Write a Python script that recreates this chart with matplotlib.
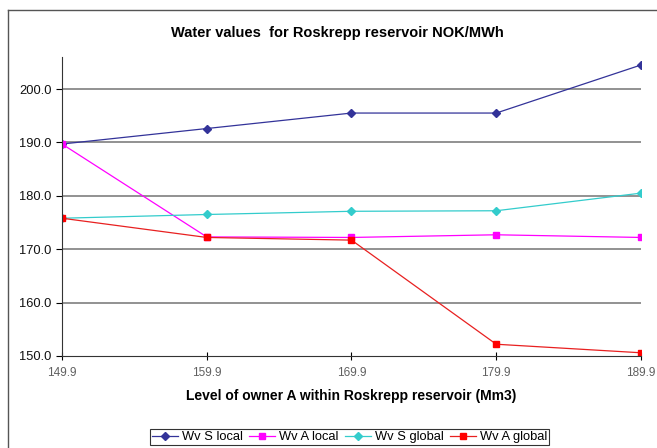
import matplotlib
matplotlib.use('Agg')
from matplotlib import pyplot as plt
from matplotlib.lines import Line2D

plt.rcParams['font.family'] = ['Liberation Sans', 'DejaVu Sans']

levels = [149.9, 159.9, 169.9, 179.9, 189.9]
wv_s_local = [189.7, 192.6, 195.5, 195.5, 204.5]
wv_a_local = [189.7, 172.3, 172.2, 172.7, 172.2]
wv_s_global = [175.8, 176.5, 177.1, 177.2, 180.5]
wv_a_global = [175.8, 172.2, 171.7, 152.2, 150.6]

y_ticks = [150.0, 160.0, 170.0, 180.0, 190.0, 200.0]

fig = plt.figure(figsize=(6.57, 4.48), dpi=100)
ax = fig.add_axes([0.0944, 0.2054, 0.8812, 0.6674])

# chart area border (left and top edges visible)
fig.add_artist(Line2D([8/657, 8/657], [0, 1-10/448], transform=fig.transFigure, color='#555555', lw=1))
fig.add_artist(Line2D([8/657, 1], [1-10/448, 1-10/448], transform=fig.transFigure, color='#555555', lw=1))

ax.plot(levels, wv_s_local, color='#333399', marker='D', markersize=4, lw=0.9, label='Wv S local')
ax.plot(levels, wv_a_local, color='#FF00FF', marker='s', markersize=5, lw=0.9, label='Wv A local')
ax.plot(levels, wv_s_global, color='#33CCCC', marker='D', markersize=4, lw=0.9, label='Wv S global')
ax.plot(levels, wv_a_global, color='#E82020', marker='s', markersize=5, mfc='#FF0000', mec='#FF0000', lw=0.9, label='Wv A global')

ax.set_xlim(149.9, 189.9)
ax.set_ylim(150, 206)
ax.set_xticks(levels)
ax.set_xticklabels(["%.1f" % v for v in levels], color='#606060')
ax.set_yticks(y_ticks)
ax.set_yticklabels(["%.1f" % v for v in y_ticks], color='#111111')
ax.tick_params(axis='x', direction='inout', length=6, labelsize=8.5, pad=5)
ax.tick_params(axis='y', direction='out', length=4, labelsize=9.3)
for y in y_ticks[1:]:
    ax.axhline(y, color='#7f7f7f', lw=1.2, zorder=0)
for s in ['top', 'right']:
    ax.spines[s].set_visible(False)
ax.spines['left'].set_color('#333333')
ax.spines['bottom'].set_color('#333333')

fig.text(337/657, 1-33/448, "Water values  for Roskrepp reservoir NOK/MWh",
         fontsize=10.5, fontweight='bold', ha='center', va='center')
ax.set_xlabel("Level of owner A within Roskrepp reservoir (Mm3)", fontsize=10, fontweight='bold', labelpad=7)

leg = fig.legend(loc='lower center', bbox_to_anchor=(0.532, -0.008), ncol=4, fontsize=9.3,
                 frameon=True, fancybox=False, edgecolor='black', handlelength=2.0,
                 handletextpad=0.3, columnspacing=0.5, borderpad=0.15)
leg.get_frame().set_linewidth(0.8)

fig.savefig('out.png', dpi=100)
